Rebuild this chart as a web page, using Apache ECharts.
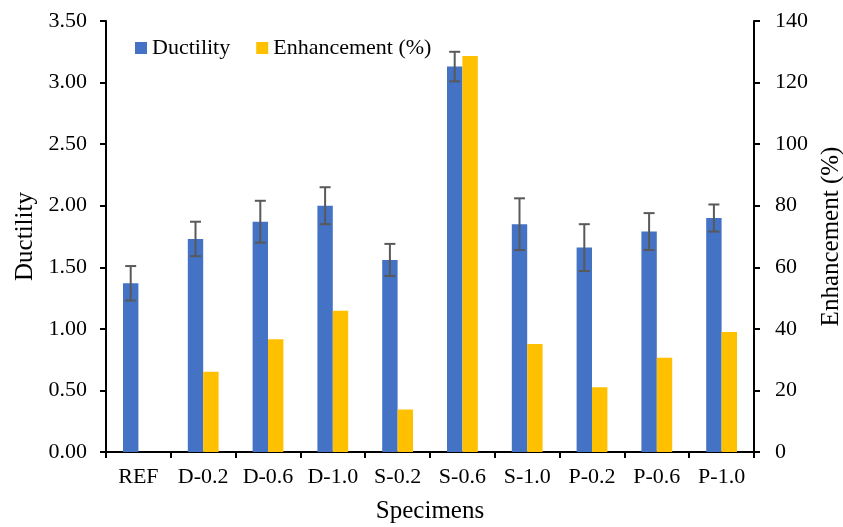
<!DOCTYPE html>
<html>
<head>
<meta charset="utf-8">
<script src="https://cdn.jsdelivr.net/npm/echarts@6/dist/echarts.min.js"></script>
<style>html,body{margin:0;padding:0;background:#fff}#c{width:843px;height:527px}</style>
</head>
<body>
<div id="c"></div>
<script>
const categories = ['REF','D-0.2','D-0.6','D-1.0','S-0.2','S-0.6','S-1.0','P-0.2','P-0.6','P-1.0'];
const ductility = [1.37, 1.73, 1.87, 2.00, 1.56, 3.13, 1.85, 1.66, 1.79, 1.90];
const ductilityErr = [0.14, 0.14, 0.17, 0.15, 0.13, 0.12, 0.21, 0.19, 0.15, 0.11];
const enhancement = [0, 26.1, 36.6, 45.9, 13.8, 128.6, 35.1, 21.0, 30.6, 39.0];
const leftTicks = {min: 0, max: 3.5, interval: 0.5};
const rightTicks = {min: 0, max: 140, interval: 20};

const FONT = "'Liberation Serif', 'Times New Roman', serif";
const CAT_GAP = 0.525;
const errData = categories.map((c, i) => [i, ductility[i] - ductilityErr[i], ductility[i] + ductilityErr[i]]);

const chart = echarts.init(document.getElementById('c'), null, {renderer: 'canvas'});
const axisLine = {show: true, lineStyle: {color: '#000', width: 2}};
chart.setOption({
  animation: false,
  textStyle: {fontFamily: FONT, color: '#000'},
  grid: {left: 106, right: 89, top: 21, bottom: 75, containLabel: false, outerBoundsMode: 'none'},
  legend: {
    left: 135, top: 37, padding: 0, itemWidth: 12, itemHeight: 12, itemGap: 26, icon: 'rect',
    textStyle: {fontFamily: FONT, fontSize: 22, color: '#000'},
    data: ['Ductility', 'Enhancement (%)']
  },
  xAxis: {
    type: 'category', data: categories,
    axisLine: axisLine,
    axisTick: {show: true, inside: false, length: 6, interval: 0, lineStyle: {color: '#000', width: 2}},
    axisLabel: {fontFamily: FONT, fontSize: 22, color: '#000', margin: 14, interval: 0},
    name: 'Specimens', nameLocation: 'middle', nameGap: 47,
    nameTextStyle: {fontFamily: FONT, fontSize: 25, color: '#000'}
  },
  yAxis: [{
    type: 'value', min: leftTicks.min, max: leftTicks.max, interval: leftTicks.interval,
    axisLine: axisLine,
    axisTick: {show: true, length: 6, lineStyle: {color: '#000', width: 2}},
    splitLine: {show: false},
    axisLabel: {fontFamily: FONT, fontSize: 22, color: '#000', margin: 19, formatter: v => v.toFixed(2)},
    name: 'Ductility', nameLocation: 'middle', nameGap: 68, nameRotate: 90,
    nameTextStyle: {fontFamily: FONT, fontSize: 25, color: '#000'}
  }, {
    type: 'value', min: rightTicks.min, max: rightTicks.max, interval: rightTicks.interval,
    position: 'right',
    axisLine: axisLine,
    axisTick: {show: true, length: 6, lineStyle: {color: '#000', width: 2}},
    splitLine: {show: false},
    axisLabel: {fontFamily: FONT, fontSize: 22, color: '#000', margin: 21},
    name: 'Enhancement (%)', nameLocation: 'middle', nameGap: 65, nameRotate: 90,
    nameTextStyle: {fontFamily: FONT, fontSize: 25, color: '#000'}
  }],
  series: [{
    name: 'Ductility', type: 'bar', yAxisIndex: 0, data: ductility,
    barGap: '0%', barCategoryGap: (CAT_GAP * 100) + '%',
    itemStyle: {color: '#4472C4'}
  }, {
    name: 'Enhancement (%)', type: 'bar', yAxisIndex: 1, data: enhancement,
    barGap: '0%', barCategoryGap: (CAT_GAP * 100) + '%',
    itemStyle: {color: '#FFC000'}
  }, {
    name: 'err', type: 'custom', yAxisIndex: 0, data: errData,
    encode: {x: 0, y: [1, 2]}, z: 10,
    renderItem: function (params, api) {
      const i = api.value(0);
      const lo = api.coord([i, api.value(1)]);
      const hi = api.coord([i, api.value(2)]);
      const band = api.size([1, 0])[0];
      const off = -band * (1 - CAT_GAP) / 4;
      const x = lo[0] + off;
      const cap = 5.5;
      const style = {stroke: '#595959', lineWidth: 2, fill: null};
      return {type: 'group', children: [
        {type: 'line', shape: {x1: x, y1: lo[1], x2: x, y2: hi[1]}, style: style},
        {type: 'line', shape: {x1: x - cap, y1: lo[1], x2: x + cap, y2: lo[1]}, style: style},
        {type: 'line', shape: {x1: x - cap, y1: hi[1], x2: x + cap, y2: hi[1]}, style: style}
      ]};
    }
  }]
});
</script>
</body>
</html>
